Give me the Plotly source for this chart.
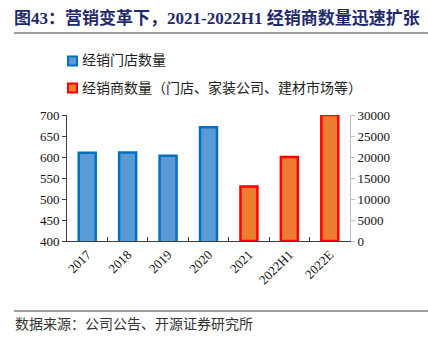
import plotly.graph_objects as go

categories = ["2017", "2018", "2019", "2020", "2021", "2022H1", "2022E"]
store_counts = [610, 611, 603, 671, None, None, None]
dealer_counts = [None, None, None, None, 13000, 20000, 30000]
series_names = ["经销门店数量", "经销商数量（门店、家装公司、建材市场等）"]

W, H = 428, 339
L, R, T, B = 67, 78, 115, 98
pw, ph = W - L - R, H - T - B

def px(x):
    return (x - L) / pw

def py(y):
    return (H - B - y) / ph

serif = "Liberation Serif, Times New Roman, serif"
cjk = "Liberation Serif, Noto Sans CJK SC, sans-serif"

blue_fill, blue_line = "#5B9BD5", "#0070C0"
org_fill, org_line = "#ED7D31", "#FF0000"

fig = go.Figure()
fig.add_trace(go.Bar(
    x=categories, y=store_counts, name=series_names[0],
    marker=dict(color=blue_fill, line=dict(color=blue_line, width=2.5)),
    width=0.42, yaxis="y", showlegend=False,
))
fig.add_trace(go.Bar(
    x=categories, y=dealer_counts, name=series_names[1],
    marker=dict(color=org_fill, line=dict(color=org_line, width=2.5)),
    width=0.42, yaxis="y2", showlegend=False,
))

shapes = [
    dict(type="line", xref="paper", yref="paper", x0=px(14), x1=px(428),
         y0=py(33), y1=py(33), line=dict(color="#7F7F7F", width=1.5)),
    dict(type="line", xref="paper", yref="paper", x0=px(14), x1=px(428),
         y0=py(311), y1=py(311), line=dict(color="#7F7F7F", width=1.5)),
]
annotations = [
    dict(text="数据来源：公司公告、开源证券研究所", xref="paper", yref="paper",
         x=px(13), y=py(324), xanchor="left", yanchor="middle", showarrow=False,
         font=dict(family=cjk, size=14, color="#333")),
]
# manual legend
for i, (name, fc, lc) in enumerate(zip(series_names, [blue_fill, org_fill], [blue_line, org_line])):
    cy = 61 + 27 * i
    shapes.append(dict(type="rect", xref="paper", yref="paper",
                       x0=px(68), x1=px(77), y0=py(cy - 4.5), y1=py(cy + 4.5),
                       fillcolor=fc, line=dict(color=lc, width=2)))
    annotations.append(dict(text=name, xref="paper", yref="paper", x=px(80), y=py(cy),
                            xanchor="left", yanchor="middle", showarrow=False,
                            font=dict(family=cjk, size=14, color="#222")))

fig.update_layout(
    width=W, height=H,
    margin=dict(l=L, r=R, t=T, b=B),
    plot_bgcolor="white", paper_bgcolor="white",
    barmode="overlay",
    showlegend=False,
    xaxis=dict(
        type="category", showline=True, linecolor="#404040", linewidth=1,
        ticks="inside", tickson="boundaries", ticklen=4, tickcolor="#404040",
        tickangle=-45, tickfont=dict(family=serif, size=13, color="#111"),
        showgrid=False,
    ),
    yaxis=dict(
        range=[400, 700], dtick=50, showline=True, linecolor="#404040",
        ticks="outside", ticklen=4, tickcolor="#404040", showgrid=False,
        tickfont=dict(family=serif, size=13, color="#111"), zeroline=False,
    ),
    yaxis2=dict(
        range=[0, 30000], dtick=5000, overlaying="y", side="right",
        showline=True, linecolor="#BFBFBF", ticks="outside", ticklen=4,
        tickcolor="#BFBFBF", showgrid=False, zeroline=False, tickformat="d",
        tickfont=dict(family=serif, size=13, color="#111"),
    ),
    title=dict(
        text="<b>图43：营销变革下，2021-2022H1 经销商数量迅速扩张</b>",
        x=14 / W, xanchor="left", xref="container",
        y=1 - 18 / H, yanchor="middle", yref="container",
        font=dict(family=cjk, size=17, color="#1F2A6B"),
    ),
    shapes=shapes,
    annotations=annotations,
)

fig.write_html("out.html")
